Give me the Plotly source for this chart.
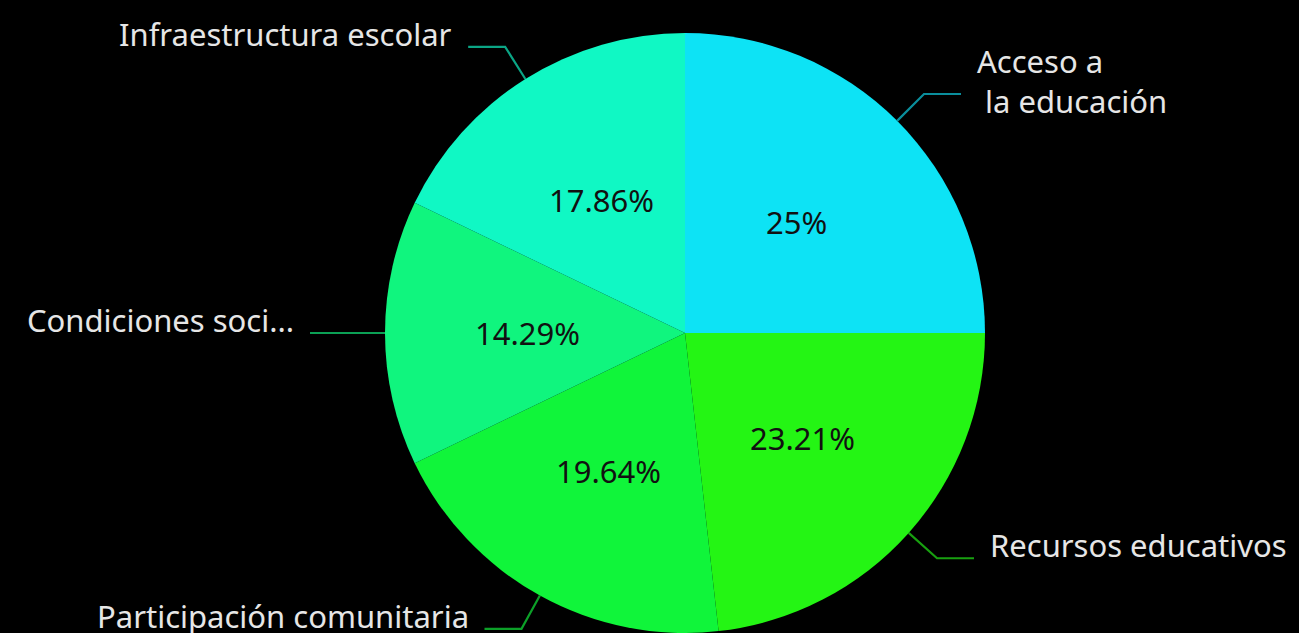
import math
import plotly.graph_objects as go

categories = ["Acceso a<br> la educación", "Recursos educativos", "Participación comunitaria",
              "Condiciones soci...", "Infraestructura escolar"]
values = [14, 13, 11, 8, 10]
colors = ["#0DE3F5", "#24F514", "#10F53A", "#10F57E", "#10F8C4"]
line_colors = ["#0A8E9C", "#18A010", "#0CA028", "#0BA055", "#0BA585"]

W, H = 1299, 633
top_pad = 33
R = 300
cx, cy = 685, top_pad + R
FONT = "Segoe UI, Noto Sans, Open Sans, sans-serif"

fig = go.Figure()
fig.add_trace(go.Pie(
    labels=categories, values=values, sort=False, direction="clockwise", rotation=0,
    marker=dict(colors=colors, line=dict(width=0)),
    textinfo="none",
    domain=dict(x=[(cx - R) / W, (cx + R) / W], y=[0, 1 - top_pad / H]),
    showlegend=False, hoverinfo="label+percent",
))

# invisible pixel axes for leader lines and labels
fig.add_trace(go.Scatter(x=[0, W], y=[0, H], mode="markers", marker=dict(opacity=0),
                         hoverinfo="skip", showlegend=False))

total = sum(values)
cum = 0
shapes, annotations = [], []
for lab, v, lc in zip(categories, values, line_colors):
    mid = (cum + v / 2) / total * 2 * math.pi
    cum += v
    sx, sy = math.sin(mid), -math.cos(mid)
    # percentage inside the slice
    pct = round(v / total * 100, 2)
    pct_txt = (f"{pct:.2f}".rstrip("0").rstrip(".")) + "%"
    annotations.append(dict(
        x=cx + 0.525 * R * sx, y=cy + 0.525 * R * sy, xref="x", yref="y",
        text=pct_txt, showarrow=False, xanchor="center", yanchor="middle",
        font=dict(family=FONT, size=31, color="#111111"),
    ))
    # leader line
    p0 = (cx + R * sx, cy + R * sy)
    p1 = (cx + (R + 38) * sx, cy + (R + 38) * sy)
    right = sx > 1e-6
    p2 = (p1[0] + (37 if right else -37), p1[1])
    shapes.append(dict(type="path", xref="x", yref="y",
                       path=f"M{p0[0]},{p0[1]} L{p1[0]},{p1[1]} L{p2[0]},{p2[1]}",
                       line=dict(color=lc, width=2.2)))
    annotations.append(dict(
        x=p2[0] + (14 if right else -14), y=p2[1] - 13, xref="x", yref="y",
        text=lab, showarrow=False, align="left",
        xanchor="left" if right else "right", yanchor="middle",
        font=dict(family=FONT, size=31, color="#E6E6E6"),
    ))

fig.update_layout(
    width=W, height=H,
    paper_bgcolor="#000000", plot_bgcolor="rgba(0,0,0,0)",
    margin=dict(l=0, r=0, t=0, b=0),
    xaxis=dict(range=[0, W], visible=False, fixedrange=True),
    yaxis=dict(range=[H, 0], visible=False, fixedrange=True),
    shapes=shapes, annotations=annotations,
)

fig.write_html("out.html", config={"displayModeBar": False},
               post_script="document.body.style.margin='0';document.body.style.background='#000';")
